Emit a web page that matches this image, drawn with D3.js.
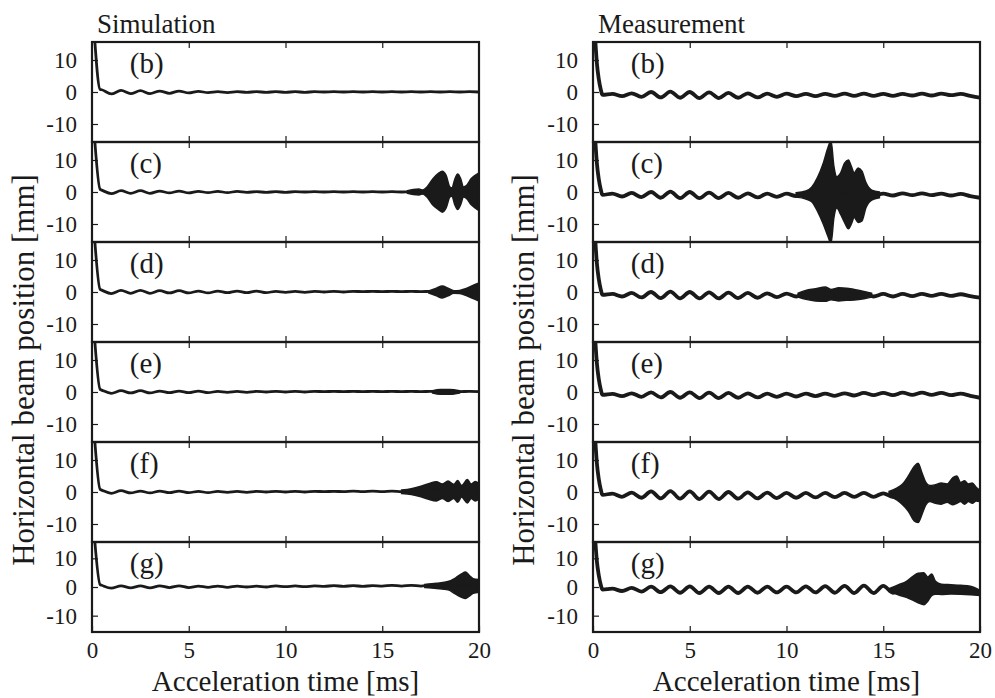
<!DOCTYPE html>
<html><head><meta charset="utf-8">
<script src="https://cdn.jsdelivr.net/npm/d3@7"></script>
<style>
body{margin:0;background:#fff}
svg{display:block}
</style>
</head><body>
<svg id="c" width="995" height="698" font-family="Liberation Serif"></svg>
<script>
// ---------------- DATA ----------------
const columnTitles = ["Simulation", "Measurement"];
const panelLabels = ["(b)", "(c)", "(d)", "(e)", "(f)", "(g)"];
const xTicks = [0, 5, 10, 15, 20];
const xInnerTicks = [5, 10, 15];
const yTicks = [-10, 0, 10];
const xTitle = "Acceleration time [ms]";
const yTitle = "Horizontal beam position [mm]";

// sample times of the slow (≈1 ms) oscillation of the orbit centre
const gridT = [0.5,1,1.5,2,2.5,3,3.5,4,4.5,5,5.5,6,6.5,7,7.5,8,8.5,9,9.5,10,
               10.5,11,11.5,12,12.5,13,13.5,14,14.5,15,15.5,16,16.5,17,17.5,18,18.5,19,19.5,20];

// injection transient [t, x]
const simTransient  = [[0.12, 18], [0.42, 0.8]];
const measTransient = [[0.12, 16], [0.2, 9], [0.3, 4], [0.4, 0.8], [0.46, -0.6]];

// orbit centre values at gridT  (b..g)
const simB = [0.7,-0.6,0.5,-0.5,0.4,-0.5,0.3,-0.4,0.3,-0.3,0.2,-0.2,0.1,-0.2,0.1,-0.1,0.1,-0.1,0.1,-0.1,
              0.1,-0.1,0.1,0,0.1,0,0.1,0,0.1,0,0.1,0,0.1,0,0.1,0,0.1,0,0.1,0];
const simC = [0.6,-0.5,0.4,-0.4,0.4,-0.4,0.3,-0.3,0.3,-0.3,0.2,-0.2,0.2,-0.2,0.2,-0.1,0.1,-0.1,0.1,-0.1,
              0.1,0,0.1,0,0.1,0,0.1,0,0.1,0,0.1,0,0.1,0,0.1,0,0.1,0,0.1,0];
const simD = [0.6,-0.5,0.5,-0.4,0.5,-0.4,0.4,-0.3,0.4,-0.3,0.3,-0.3,0.3,-0.2,0.3,-0.2,0.3,-0.2,0.2,-0.1,
              0.2,-0.1,0.2,0,0.2,0,0.2,0.1,0.2,0.1,0.2,0.1,0.2,0.1,0.2,0.1,0.2,0.1,0.2,0.1];
const simE = [0.6,-0.4,0.4,-0.3,0.4,-0.3,0.3,-0.2,0.3,-0.2,0.3,-0.2,0.2,-0.1,0.2,-0.1,0.2,0,0.2,0,
              0.2,0,0.2,0.1,0.2,0.1,0.2,0.1,0.2,0.1,0.2,0.1,0.2,0.1,0.2,0.1,0.2,0.1,0.2,0.1];
const simF = [0.6,-0.4,0.4,-0.3,0.3,-0.3,0.3,-0.2,0.3,-0.2,0.2,-0.2,0.2,-0.1,0.2,-0.1,0.2,0,0.2,0,
              0.2,0,0.2,0.1,0.2,0.1,0.3,0.1,0.3,0.1,0.3,0.1,0.3,0.2,0.3,0.2,0.3,0.2,0.3,0.2];
const simG = [0.6,-0.4,0.4,-0.3,0.4,-0.3,0.4,-0.2,0.4,-0.2,0.3,-0.1,0.3,-0.1,0.3,0,0.3,0,0.4,0.1,
              0.4,0.1,0.4,0.2,0.5,0.2,0.5,0.2,0.5,0.3,0.6,0.3,0.6,0.3,0.6,0.3,0.6,0.3,0.6,0.4];

const measB = [-0.9,-0.6,-1.3,-0.4,-1.5,0.0,-1.7,0.1,-1.8,0.0,-1.9,-0.1,-1.9,-0.3,-1.8,-0.4,-1.7,-0.5,-1.5,-0.5,
               -1.3,-0.6,-1.3,-0.6,-1.2,-0.5,-1.2,-0.5,-1.2,-0.6,-1.2,-0.6,-1.1,-0.5,-1.1,-0.5,-1.0,-0.6,-1.2,-1.8];
const measC = [-0.9,-0.5,-1.4,-0.3,-1.6,0.0,-1.8,0.1,-1.9,0.0,-1.9,-0.2,-1.9,-0.3,-1.8,-0.4,-1.7,-0.5,-1.5,-0.5,
               -1.3,-0.6,-1.3,-0.6,-1.2,-0.6,-1.2,-0.6,-1.2,-0.5,-1.1,-0.4,-1.0,-0.4,-1.0,-0.5,-1.1,-0.6,-1.3,-1.8];
const measD = [-0.9,-0.6,-1.4,-0.3,-1.7,0.0,-1.9,0.1,-2.0,0.0,-2.0,-0.1,-2.0,-0.2,-1.9,-0.3,-1.8,-0.4,-1.6,-0.5,
               -1.4,-0.5,-1.3,-0.5,-1.3,-0.5,-1.3,-0.6,-1.4,-0.6,-1.4,-0.6,-1.3,-0.6,-1.2,-0.6,-1.2,-0.7,-1.3,-1.8];
const measE = [-0.9,-0.6,-1.3,-0.4,-1.5,-0.1,-1.7,0.0,-1.8,-0.1,-1.9,-0.2,-1.9,-0.3,-1.8,-0.4,-1.7,-0.5,-1.5,-0.5,
               -1.4,-0.5,-1.3,-0.5,-1.2,-0.4,-1.1,-0.3,-1.0,-0.3,-1.0,-0.2,-0.9,-0.2,-0.9,-0.3,-1.0,-0.5,-1.2,-1.8];
const measF = [-0.9,-0.5,-1.5,-0.2,-1.8,0.2,-2.0,0.3,-2.1,0.2,-2.2,0.1,-2.2,0.0,-2.1,-0.1,-2.0,-0.2,-1.9,-0.3,
               -1.8,-0.3,-1.7,-0.3,-1.6,-0.3,-1.5,-0.3,-1.5,-0.4,-1.5,-0.5,-1.5,-0.6,-1.5,-0.6,-1.4,-0.7,-1.5,-1.9];
const measG = [-0.9,-0.6,-1.4,-0.3,-1.6,0.1,-1.8,0.2,-2.0,0.2,-2.1,0.1,-2.1,0.1,-2.1,0.1,-2.0,0.1,-1.9,0.1,
               -1.9,0.2,-1.9,0.3,-2.0,0.4,-2.1,0.5,-2.1,0.4,-2.0,0.2,-1.6,0.0,-1.3,-0.1,-1.3,-0.3,-1.6,-2.2];

// envelopes of the coherent oscillation bursts [t, lower, upper]
const simBurstB = [];
const simBurstC = [[16.3,-0.4,0.4],[16.6,-0.8,0.8],[16.9,-0.9,0.9],[17.1,-0.6,0.6],[17.3,-1.5,1.5],[17.6,-4,4],
                   [17.9,-5.5,5.8],[18.1,-6.3,6.5],[18.3,-5,5.2],[18.5,-1.5,1.5],[18.6,-1.3,1.3],[18.75,-4,4],
                   [18.9,-5.5,5.6],[19.05,-4,4.2],[19.2,-1.6,1.6],[19.35,-2,2],[19.6,-4,4.2],[19.8,-5,5.2],[20,-5.8,6]];
const simBurstD = [[17.4,-0.3,0.3],[17.8,-1.2,1.2],[18.1,-1.9,1.9],[18.4,-1.2,1.2],[18.7,-0.4,0.4],[19.0,-0.5,0.5],
                   [19.3,-1,1],[19.6,-1.8,1.8],[20,-2.8,2.8]];
const simBurstE = [[17.6,-0.3,0.4],[18.0,-0.7,0.8],[18.5,-0.7,0.8],[19.0,-0.3,0.4]];
const simBurstF = [[16.0,-0.5,0.6],[16.5,-0.8,1.0],[17.0,-1.5,1.8],[17.4,-2.3,2.6],[17.8,-2.8,3.2],[18.1,-2.0,2.5],
                   [18.4,-3,3.4],[18.7,-2.0,2.4],[18.9,-3.2,3.6],[19.1,-1.6,2.0],[19.4,-3.4,3.9],[19.6,-2.0,2.5],
                   [19.8,-2.8,3.3],[20,-2.2,2.7]];
const simBurstG = [[17.2,-0.2,0.9],[17.8,-0.5,1.3],[18.4,-1.0,1.9],[18.8,-2.5,3.2],[19.1,-3.6,4.6],[19.3,-4.0,5.2],
                   [19.5,-3.2,4.0],[19.7,-2.2,2.9],[20,-1.8,2.6]];

const measBurstB = [];
const measBurstC = [[10.5,-1.6,-0.2],[11.0,-2.2,0.3],[11.3,-3,1.5],[11.6,-6,4.5],[11.9,-10,9],[12.15,-14,14],
                    [12.3,-16,16],[12.45,-8,8],[12.6,-5,4.8],[12.8,-7,6],[13.0,-9.5,9],[13.2,-11.5,10],
                    [13.35,-10,8],[13.5,-8,6],[13.7,-9.5,7.5],[13.9,-9,6.5],[14.1,-5,3],[14.4,-2.5,0.6],[14.8,-1.8,0.0]];
const measBurstD = [[10.6,-1.6,-0.4],[11.0,-2.3,0.5],[11.5,-2.8,1.0],[12.0,-2.9,1.6],[12.3,-2.4,0.8],[12.7,-2.8,1.3],
                    [13.1,-2.6,1.2],[13.5,-2.5,0.8],[14.0,-2.1,0.2],[14.4,-1.6,-0.4]];
const measBurstE = [];
const measBurstF = [[15.3,-1.3,0.2],[15.7,-2.5,1.2],[16.0,-4,2.5],[16.3,-6,5],[16.6,-9,8],[16.8,-9.5,9],[17.0,-7,6],
                    [17.2,-4,3],[17.4,-3,2],[17.7,-3.5,2.3],[18.0,-3.8,2.8],[18.3,-3.2,2.5],[18.6,-4,4.5],[18.8,-3.5,5],
                    [19.0,-3,3],[19.2,-3.8,3.5],[19.4,-3,2.5],[19.6,-3.5,2.8],[19.8,-2.8,1.5],[20,-3,0.5]];
const measBurstG = [[15.3,-1.6,-0.6],[15.8,-2.8,0.8],[16.2,-3.6,2.0],[16.5,-4.5,3.5],[16.8,-5.5,4.8],[17.1,-6.2,5],
                    [17.3,-5,3.5],[17.5,-3,4.5],[17.7,-2.5,2],[18.0,-2.6,1.0],[18.5,-2.4,0.8],[19.0,-2.5,0.6],
                    [19.5,-2.7,0.3],[20,-3,-1.2]];

// ---------------- DRAWING ----------------
const svg = d3.select("#c");
const ink = "#1a1a1a";
const serif = "Liberation Serif";
const panelTop = [42, 142, 242, 342, 442, 542];
const panelH   = [100, 100, 100, 100, 100, 90];

const columns = [
  {x0: 92,  x1: 479, title: columnTitles[0], transient: simTransient,
   centers: [simB, simC, simD, simE, simF, simG],
   bursts: [simBurstB, simBurstC, simBurstD, simBurstE, simBurstF, simBurstG], sw: 2.8, ytx: 34},
  {x0: 593, x1: 980, title: columnTitles[1], transient: measTransient,
   centers: [measB, measC, measD, measE, measF, measG],
   bursts: [measBurstB, measBurstC, measBurstD, measBurstE, measBurstF, measBurstG], sw: 3.8, ytx: 534}
];

columns.forEach((c, ci) => {
  const x = d3.scaleLinear().domain([0, 20]).range([c.x0, c.x1]);
  svg.append("text").attr("x", c.x0 + 5).attr("y", 33).attr("fill", ink)
     .attr("font-family", serif).attr("font-size", 27).text(c.title);

  panelLabels.forEach((lab, i) => {
    const top = panelTop[i], h = panelH[i];
    const y = d3.scaleLinear().domain([-15, 15]).range([top + h - 2, top + 2]);
    const g = svg.append("g");
    const cid = `clip${ci}_${i}`;
    svg.append("clipPath").attr("id", cid).append("rect")
       .attr("x", c.x0).attr("y", top).attr("width", c.x1 - c.x0).attr("height", h);
    const pg = g.append("g").attr("clip-path", `url(#${cid})`);

    if (c.bursts[i].length) {
      pg.append("path").datum(c.bursts[i])
        .attr("d", d3.area().x(d => x(d[0])).y0(d => y(d[1])).y1(d => y(d[2])).curve(d3.curveMonotoneX))
        .attr("fill", ink).attr("stroke", ink).attr("stroke-width", 1.5);
    }
    const pts = c.transient.concat(gridT.map((t, j) => [t, c.centers[i][j]]));
    pg.append("path").datum(pts)
      .attr("d", d3.line().x(d => x(d[0])).y(d => y(d[1])).curve(d3.curveMonotoneX))
      .attr("fill", "none").attr("stroke", ink).attr("stroke-width", c.sw)
      .attr("stroke-linejoin", "round");

    const last = i === panelLabels.length - 1;
    const ya = g.append("g").attr("transform", `translate(${c.x0},0)`)
      .call(d3.axisLeft(y).tickValues(yTicks).tickSize(-6).tickPadding(15).tickFormat(d => String(d)));
    const xt = g.append("g").attr("transform", `translate(0,${top})`)
      .call(d3.axisTop(x).tickValues(xInnerTicks).tickSize(-6).tickFormat(""));
    const xb = g.append("g").attr("transform", `translate(0,${top + h})`)
      .call(d3.axisBottom(x).tickValues(last ? xTicks : xInnerTicks)
        .tickSize(-6).tickPadding(10).tickFormat(last ? (d => String(d)) : ""));
    [ya, xt, xb].forEach(a => {
      a.attr("font-family", serif).attr("font-size", 23);
      a.select(".domain").remove();
      a.selectAll("line").attr("stroke", ink).attr("stroke-width", 1.2);
      a.selectAll("text").attr("fill", ink);
    });

    g.append("rect").attr("x", c.x0).attr("y", top).attr("width", c.x1 - c.x0).attr("height", h)
      .attr("fill", "none").attr("stroke", ink).attr("stroke-width", 2.2);

    g.append("text").attr("x", x(1.95)).attr("y", top + 31).attr("fill", ink)
      .attr("font-family", serif).attr("font-size", 29).text(lab);
  });

  svg.append("text").attr("x", (c.x0 + c.x1) / 2).attr("y", 691).attr("fill", ink)
     .attr("text-anchor", "middle").attr("font-family", serif).attr("font-size", 29).text(xTitle);
  svg.append("text").attr("transform", `translate(${c.ytx},370) rotate(-90)`).attr("fill", ink)
     .attr("text-anchor", "middle").attr("font-family", serif).attr("font-size", 31).text(yTitle);
});
</script>
</body></html>
